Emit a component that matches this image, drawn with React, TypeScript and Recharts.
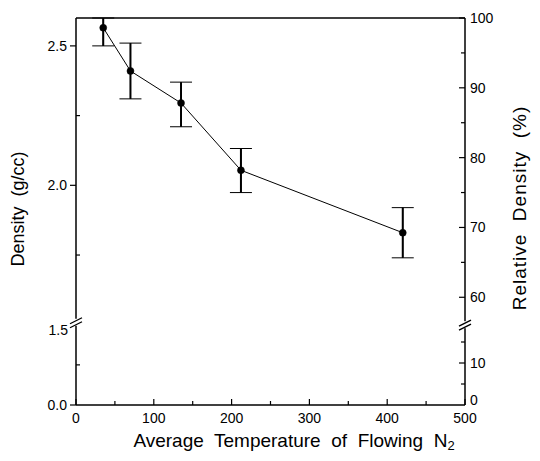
import React from 'react';
import { LineChart, Line, XAxis, YAxis, ErrorBar, ReferenceLine } from 'recharts';

// ---- data ----
const temperatures = [35, 70, 135, 212, 420];
const densities = [2.565, 2.41, 2.295, 2.054, 1.83];
const densityErrLow = [0.065, 0.1, 0.085, 0.08, 0.09];
const densityErrHigh = [0.035, 0.1, 0.075, 0.078, 0.09];

const xTicks = [0, 50, 100, 150, 200, 250, 300, 350, 400, 450, 500];
const xTickLabels = ['0', '', '100', '', '200', '', '300', '', '400', '', '500'];

const densityTicks = [0, 0.75, 1.5, 1.75, 2.0, 2.25, 2.5];
const densityTickLabels = ['0.0', '', '1.5', '', '2.0', '', '2.5'];

const relTicks = [0, 5, 10, 15, 60, 65, 70, 75, 80, 85, 90, 95, 100];
const relTickLabels = ['0', '', '10', '', '60', '', '70', '', '80', '', '90', '', '100'];

// ---- broken-axis scales (display units) ----
const BREAK_H = 80; // height of the compressed lower segment
const densToDisp = (v: number) => (v >= 1.5 ? BREAK_H + (v - 1.5) * 278 : (v * BREAK_H) / 1.5);
const relToDisp = (v: number) => (v >= 56 ? BREAK_H + (v - 56) * 7 : (v * BREAK_H) / 19);
const LEFT_MAX = densToDisp(2.6);
const RIGHT_MAX = relToDisp(100);

const data = temperatures.map((t, i) => {
  const y = densToDisp(densities[i]);
  const err = [y - densToDisp(densities[i] - densityErrLow[i]), densToDisp(densities[i] + densityErrHigh[i]) - y];
  return { t, y, err, err2: err };
});

const FONT = '"Liberation Sans", Arial, Helvetica, sans-serif';

const leftTickDisp = densityTicks.map(densToDisp);
const rightTickDisp = [...relTicks.map(relToDisp), BREAK_H];

const BreakMark = ({ x, y }: { x: number; y: number }) => (
  <g>
    <rect x={x - 3} y={y - 4} width={6} height={7} fill="#fff" />
    <line x1={x - 6} y1={y + 1} x2={x + 6} y2={y - 5} stroke="#000" strokeWidth={1.3} />
    <line x1={x - 6} y1={y + 5} x2={x + 6} y2={y - 1} stroke="#000" strokeWidth={1.3} />
  </g>
);

const XTick = (props: any) => {
  const { x, y, payload } = props;
  const idx = xTicks.indexOf(payload.value);
  const label = idx >= 0 ? xTickLabels[idx] : '';
  const len = label ? 6 : 4;
  return (
    <g>
      <line x1={x} y1={y} x2={x} y2={y - len} stroke="#000" strokeWidth={1.2} />
      {label && (
        <text x={x} y={y + 18} textAnchor="middle" fontSize={14} fontFamily={FONT} fill="#000">
          {label}
        </text>
      )}
    </g>
  );
};

const LeftTick = (props: any) => {
  const { x, y, payload } = props;
  const idx = leftTickDisp.findIndex((d) => Math.abs(d - payload.value) < 1e-6);
  const label = idx >= 0 ? densityTickLabels[idx] : '';
  const isBreak = idx >= 0 && densityTicks[idx] === 1.5;
  return (
    <g>
      {isBreak ? (
        <BreakMark x={x} y={y - 2} />
      ) : label ? (
        <line x1={x} y1={y} x2={x - 6} y2={y} stroke="#000" strokeWidth={1.2} />
      ) : (
        <line x1={x} y1={y} x2={x + 4} y2={y} stroke="#000" strokeWidth={1.2} />
      )}
      {label && (
        <text
          x={x - (isBreak ? 8 : 9)}
          y={y + (isBreak ? 10 : 5)}
          textAnchor="end"
          fontSize={14}
          fontFamily={FONT}
          fill="#000"
        >
          {label}
        </text>
      )}
    </g>
  );
};

const RightTick = (props: any) => {
  const { x, y, payload } = props;
  const v = payload.value;
  if (Math.abs(v - BREAK_H) < 1e-6) return <BreakMark x={x} y={y} />;
  const idx = rightTickDisp.findIndex((d) => Math.abs(d - v) < 1e-6);
  const label = idx >= 0 && idx < relTickLabels.length ? relTickLabels[idx] : '';
  const isZero = idx === 0;
  return (
    <g>
      {!isZero && <line x1={x} y1={y} x2={x - (label ? 6 : 4)} y2={y} stroke="#000" strokeWidth={1.2} />}
      {label && (
        <text x={x + 5} y={y + (isZero ? 0 : 5)} textAnchor="start" fontSize={14} fontFamily={FONT} fill="#000">
          {label}
        </text>
      )}
    </g>
  );
};

const LeftTitle = () => (
  <text
    x={19}
    y={209}
    transform="rotate(-90 19 209)"
    textAnchor="middle"
    dominantBaseline="middle"
    fontSize={18}
    fontFamily={FONT}
    fill="#000"
    style={{ whiteSpace: 'pre' }}
  >
    {'Density  (g/cc)'}
  </text>
);

const RightTitle = () => (
  <text
    x={521}
    y={208}
    transform="rotate(-90 521 208)"
    textAnchor="middle"
    dominantBaseline="middle"
    fontSize={19}
    letterSpacing={1}
    fontFamily={FONT}
    fill="#000"
    style={{ whiteSpace: 'pre' }}
  >
    {'Relative  Density  (%)'}
  </text>
);

const BottomTitle = () => (
  <text x={294} y={447} textAnchor="middle" fontSize={19} fontFamily={FONT} fill="#000" style={{ whiteSpace: 'pre' }}>
    {'Average  Temperature  of  Flowing  N'}
    <tspan fontSize={13} dy={3}>
      2
    </tspan>
  </text>
);

export default function App() {
  return (
    <div style={{ position: 'absolute', left: 0, top: 0, width: 540, height: 461, background: '#fff' }}>
      <LineChart width={540} height={461} data={data} margin={{ top: 18, right: 0, bottom: 0, left: 0 }}>
        <XAxis
          dataKey="t"
          type="number"
          domain={[0, 500]}
          allowDataOverflow
          ticks={xTicks}
          interval={0}
          tickSize={0}
          tickMargin={0}
          tickLine={false}
          tick={<XTick />}
          axisLine={{ stroke: '#000', strokeWidth: 1.5 }}
          height={56}
          label={<BottomTitle />}
        />
        <YAxis
          yAxisId="left"
          orientation="left"
          type="number"
          domain={[0, LEFT_MAX]}
          allowDataOverflow
          ticks={leftTickDisp}
          interval={0}
          tickSize={0}
          tickMargin={0}
          tickLine={false}
          tick={<LeftTick />}
          axisLine={{ stroke: '#000', strokeWidth: 1.5 }}
          width={76}
          label={<LeftTitle />}
        />
        <YAxis
          yAxisId="right"
          orientation="right"
          type="number"
          domain={[0, RIGHT_MAX]}
          allowDataOverflow
          ticks={rightTickDisp}
          interval={0}
          tickSize={0}
          tickMargin={0}
          tickLine={false}
          tick={<RightTick />}
          axisLine={{ stroke: '#000', strokeWidth: 1.5 }}
          width={75}
          label={<RightTitle />}
        />
        <ReferenceLine yAxisId="left" y={LEFT_MAX} stroke="#000" strokeWidth={1.5} />
        <Line
          yAxisId="left"
          dataKey="y"
          stroke="#000"
          strokeWidth={1}
          dot={{ r: 3.5, fill: '#000', stroke: '#000', strokeWidth: 0.5 }}
          isAnimationActive={false}
        >
          <ErrorBar dataKey="err" direction="y" width={11} stroke="#000" strokeWidth={1} />
          <ErrorBar dataKey="err2" direction="y" width={0} stroke="#000" strokeWidth={2} />
        </Line>
      </LineChart>
    </div>
  );
}
